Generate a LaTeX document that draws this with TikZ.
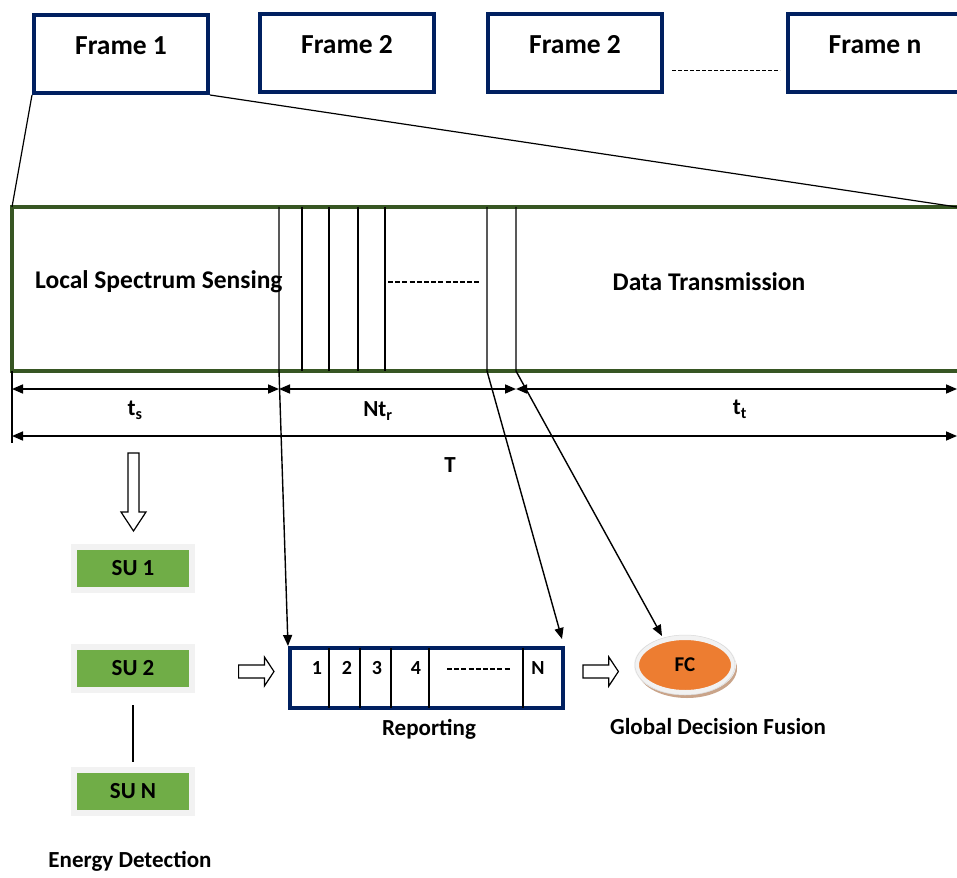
\documentclass[tikz,border=0pt]{standalone}
\usepackage{fontspec}
\setmainfont{Carlito}
\usetikzlibrary{arrows.meta,shadows,shapes.geometric}
\definecolor{navy}{HTML}{002060}
\definecolor{slotgreen}{HTML}{375623}
\definecolor{sugreen}{HTML}{70AD47}
\definecolor{fcorange}{HTML}{ED7D31}
\definecolor{rim}{HTML}{F2F2F2}
\definecolor{sushadow}{HTML}{AEB8A2}
\definecolor{fcshadow}{HTML}{C9A48A}
\begin{document}
\begin{tikzpicture}[x=1pt,y=-1pt,
  lbl/.style={font=\bfseries\fontsize{23}{27}\selectfont, inner sep=0pt},
  biglbl/.style={font=\bfseries\fontsize{25.5}{30}\selectfont, inner sep=0pt},
  framelbl/.style={font=\bfseries\fontsize{27.5}{32}\selectfont, inner sep=0pt},
  small/.style={font=\bfseries\fontsize{20}{24}\selectfont, inner sep=0pt},
  framebox/.style={draw=navy, line width=4pt, minimum width=174pt, minimum height=78pt, inner sep=0pt},
  thinline/.style={line width=1.2pt},
  divider/.style={line width=1.4pt},
  dim/.style={line width=1.6pt, {Triangle[length=11pt,width=9pt]}-{Triangle[length=11pt,width=9pt]}},
  tiparrow/.style={line width=1.4pt, -{Triangle[length=11pt,width=9pt]}},
  hollow/.style={draw, line width=1.2pt, fill=white},
  dashline/.style={line width=2pt, dash pattern=on 5pt off 2.2pt},
  subox/.style={draw=rim, line width=6pt, fill=sugreen, minimum width=118pt, minimum height=43pt, inner sep=0pt,
    font=\bfseries\fontsize{23}{27}\selectfont,
    drop shadow={shadow xshift=2pt, shadow yshift=-3pt, fill=sushadow, opacity=1}},
  ]
\useasboundingbox (0,0) rectangle (957,877);

% ---- frames ----
\node[framebox] (f1) at (121,54) {};
\node[framebox] (f2a) at (347,53) {};
\node[framebox] (f2b) at (575,53) {};
\node[framebox] (fn) at (875,53) {};
\node[framelbl] (f1t) at (121,46) {Frame 1};
\node[framelbl] (f2at) at (347,45) {Frame 2};
\node[framelbl] (f2bt) at (575,45) {Frame 2};
\node[framelbl] (fnt) at (875,45) {Frame n};
\coordinate (gapl) at (672,71);
\coordinate (gapr) at (780,71);
\draw[line width=1pt, dash pattern=on 4pt off 2pt] (gapl) -- (gapr);

% ---- expanded frame ----
\coordinate (sw) at (12,207);
\coordinate (se) at (957,207);
\draw[slotgreen, line width=4pt] (12,207) rectangle (965,371);
\draw[thinline] (f1.south west) -- (sw);
\draw[thinline] (f1.south east) -- (se);

\foreach \x in {302,329,358,385}
  \draw[divider] (\x,207) -- (\x,371);
\draw[dashline] (388,282) -- (480,282);

\node[biglbl, anchor=west] (lss) at (35,282) {Local Spectrum Sensing};
\node[biglbl] (dt) at (709,282) {Data Transmission};

% ---- durations ----
\coordinate (a0) at (12,389);
\coordinate (a1) at (279,389);
\coordinate (a2) at (516,389);
\coordinate (a3) at (957,389);
\coordinate (b0) at (12,436);
\coordinate (b1) at (957,436);
\draw[thinline] (12,371) -- (12,443);
\draw[dim] (a0) -- (a1);
\draw[dim] (a1) -- (a2);
\draw[dim] (a2) -- (a3);
\draw[dim] (b0) -- (b1);
\node[lbl] (ts) at (135,410) {t\textsubscript{s}};
\node[lbl] (ntr) at (378,411) {Nt\textsubscript{r}};
\node[lbl] (tt) at (740,409) {t\textsubscript{t}};
\node[lbl] (tT) at (450,465) {T};

% ---- secondary users ----
\draw[hollow] (128,453) -- (139,453) -- (139,512) -- (146,512) -- (133.5,531) -- (121,512) -- (128,512) -- cycle;
\node[subox] (su1) at (133,568.5) {SU 1};
\node[subox] (su2) at (133,668.5) {SU 2};
\node[subox] (sun) at (133,791) {SU N};
\draw[thinline, shorten <=12pt, shorten >=5pt] (su2.south) -- (sun.north);
\node[lbl] (ed) at (130,861) {Energy Detection};

% ---- reporting ----
\draw[hollow] (238.6,665) -- (264.4,665) -- (264.4,657) -- (274,671.5) -- (264.4,686) -- (264.4,678) -- (238.6,678) -- cycle;
\node[draw=navy, line width=4pt, minimum width=273pt, minimum height=60pt, inner sep=0pt] (rep) at (426.5,678) {};
\foreach \x in {329,360,391,429,523}
  \draw[divider] (\x,648) -- (\x,708);
\node[small] (r1) at (317,668) {1};
\node[small] (r2) at (347,668) {2};
\node[small] (r3) at (377,668) {3};
\node[small] (r4) at (416,668) {4};
\draw[dashline] (447,669) -- (511,669);
\node[small] (rN) at (538,668) {N};
\node[lbl] (rl) at (429,729) {Reporting};

% ---- fusion centre ----
\draw[hollow] (583,665) -- (608.8,665) -- (608.8,657) -- (618.4,671.5) -- (608.8,686) -- (608.8,678) -- (583,678) -- cycle;
\fill[fcshadow] (687,668.5) ellipse (50 and 29.5);
\node[ellipse, fill=fcorange, draw=rim, line width=5pt, minimum width=97pt, minimum height=55pt, inner sep=0pt,
  font=\bfseries\fontsize{21}{25}\selectfont] (fc) at (685,665) {FC};
\draw[line width=0.5pt, draw=black!15] (685,665) ellipse (50 and 30);
\node[lbl] (gdf) at (718,727) {Global Decision Fusion};
\coordinate (fcin) at (662,636);

% ---- connectors from the reporting slots ----
\draw[tiparrow] (279,207) -- (279,371) -- (rep.north west);
\draw[tiparrow] (487,207) -- (487,371) -- (562,639);
\draw[tiparrow] (516,207) -- (516,371) -- (fcin);
\end{tikzpicture}
\end{document}
